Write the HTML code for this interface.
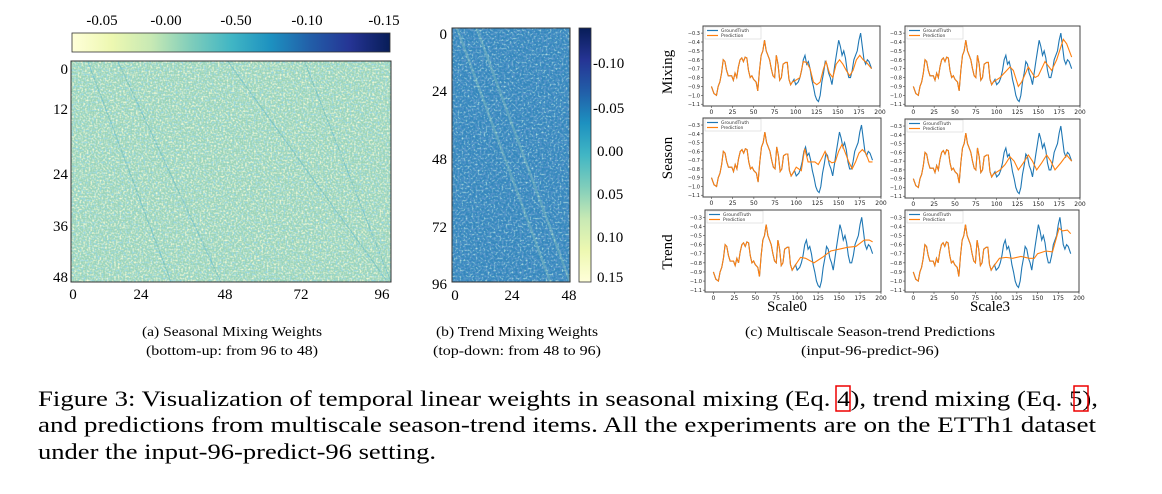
<!DOCTYPE html>
<html><head><meta charset="utf-8"><style>
html,body{margin:0;padding:0;background:#fff;}
svg{display:block;}
</style></head><body>
<svg id="fig" width="1162" height="494" viewBox="0 0 1162 494" xmlns="http://www.w3.org/2000/svg" font-family="Liberation Serif, serif">
<defs>
<linearGradient id="ylgnbuH" x1="0" y1="0" x2="1" y2="0">
<stop offset="0" stop-color="#ffffd9"/><stop offset="0.125" stop-color="#edf8b1"/><stop offset="0.25" stop-color="#c7e9b4"/><stop offset="0.375" stop-color="#7fcdbb"/><stop offset="0.5" stop-color="#41b6c4"/><stop offset="0.625" stop-color="#1d91c0"/><stop offset="0.75" stop-color="#225ea8"/><stop offset="0.875" stop-color="#253494"/><stop offset="1" stop-color="#081d58"/>
</linearGradient>
<linearGradient id="ylgnbuV" x1="0" y1="1" x2="0" y2="0">
<stop offset="0" stop-color="#ffffd9"/><stop offset="0.125" stop-color="#edf8b1"/><stop offset="0.25" stop-color="#c7e9b4"/><stop offset="0.375" stop-color="#7fcdbb"/><stop offset="0.5" stop-color="#41b6c4"/><stop offset="0.625" stop-color="#1d91c0"/><stop offset="0.75" stop-color="#225ea8"/><stop offset="0.875" stop-color="#253494"/><stop offset="1" stop-color="#081d58"/>
</linearGradient>
<filter id="noiseA" x="0" y="0" width="100%" height="100%">
<feTurbulence type="fractalNoise" baseFrequency="0.55" numOctaves="1" seed="3"/>
<feColorMatrix type="matrix" values="0 0 0 0 0.93  0 0 0 0 0.96  0 0 0 0 0.68  3 0 0 0 -1.3"/>
</filter>
<filter id="noiseA2" x="0" y="0" width="100%" height="100%">
<feTurbulence type="fractalNoise" baseFrequency="0.5" numOctaves="1" seed="11"/>
<feColorMatrix type="matrix" values="0 0 0 0 0.3  0 0 0 0 0.68  0 0 0 0 0.78  3 0 0 0 -1.4"/>
</filter>
<filter id="noiseB" x="0" y="0" width="100%" height="100%">
<feTurbulence type="fractalNoise" baseFrequency="0.5" numOctaves="1" seed="5"/>
<feColorMatrix type="matrix" values="0 0 0 0 0.5  0 0 0 0 0.78  0 0 0 0 0.76  3 0 0 0 -1.5"/>
</filter>
<filter id="noiseB2" x="0" y="0" width="100%" height="100%">
<feTurbulence type="fractalNoise" baseFrequency="0.45" numOctaves="1" seed="9"/>
<feColorMatrix type="matrix" values="0 0 0 0 0.1  0 0 0 0 0.3  0 0 0 0 0.6  3 0 0 0 -1.3"/>
</filter>
</defs>

<g>
<rect x="72" y="33" width="318" height="19" fill="url(#ylgnbuH)" stroke="#333" stroke-width="0.8"/>
<g font-size="15" text-anchor="middle">
<text x="102" y="25">-0.05</text><text x="166" y="25">-0.00</text><text x="236" y="25">-0.50</text><text x="307" y="25">-0.10</text><text x="384" y="25">-0.15</text>
</g>
<rect x="71" y="61" width="320" height="221" fill="#9cd4b9"/>
<rect x="71" y="61" width="320" height="221" filter="url(#noiseA)"/>
<rect x="71" y="61" width="320" height="221" filter="url(#noiseA2)"/>
<g id="diagA"></g>
<rect x="71" y="61" width="320" height="221" fill="none" stroke="#333" stroke-width="1"/>
<g font-size="15" text-anchor="end">
<text x="68" y="74">0</text><text x="68" y="114">12</text><text x="68" y="179">24</text><text x="68" y="231">36</text><text x="68" y="282">48</text>
</g>
<g font-size="15" text-anchor="middle">
<text x="73" y="299">0</text><text x="141" y="299">24</text><text x="225" y="299">48</text><text x="301" y="299">72</text><text x="382" y="299">96</text>
</g>
</g>

<g>
<rect x="452" y="28" width="118" height="254" fill="#3487bd"/>
<rect x="452" y="28" width="118" height="254" filter="url(#noiseB)"/>
<rect x="452" y="28" width="118" height="254" filter="url(#noiseB2)"/>
<g id="diagB"></g>
<rect x="452" y="28" width="118" height="254" fill="none" stroke="#333" stroke-width="1"/>
<rect x="579" y="28" width="12" height="254" fill="url(#ylgnbuV)" stroke="#333" stroke-width="0.8"/>
<g font-size="15" text-anchor="start">
<text x="593" y="68">-0.10</text><text x="593" y="113">-0.05</text><text x="597" y="156">0.00</text><text x="597" y="199">0.05</text><text x="597" y="242">0.10</text><text x="597" y="282">0.15</text>
</g>
<g font-size="15" text-anchor="end">
<text x="447" y="39">0</text><text x="447" y="96">24</text><text x="447" y="164">48</text><text x="447" y="232">72</text><text x="447" y="289">96</text>
</g>
<g font-size="15" text-anchor="middle">
<text x="455" y="300">0</text><text x="512" y="300">24</text><text x="569" y="300">48</text>
</g>
</g>

<g id="lines"></g>
<g font-size="15">
<text transform="translate(672,72) rotate(-90)" text-anchor="middle">Mixing</text>
<text transform="translate(672,158) rotate(-90)" text-anchor="middle">Season</text>
<text transform="translate(672,252) rotate(-90)" text-anchor="middle">Trend</text>
</g>
<text x="787" y="311" font-size="15" text-anchor="middle">Scale0</text>
<text x="990" y="311" font-size="15" text-anchor="middle">Scale3</text>

<g font-size="14" text-anchor="middle">
<text x="232" y="336" textLength="180" lengthAdjust="spacingAndGlyphs">(a) Seasonal Mixing Weights</text>
<text x="232" y="355" textLength="172" lengthAdjust="spacingAndGlyphs">(bottom-up: from 96 to 48)</text>
<text x="517" y="336" textLength="162" lengthAdjust="spacingAndGlyphs">(b) Trend Mixing Weights</text>
<text x="517" y="355" textLength="168" lengthAdjust="spacingAndGlyphs">(top-down: from 48 to 96)</text>
<text x="870" y="336" textLength="250" lengthAdjust="spacingAndGlyphs">(c) Multiscale Season-trend Predictions</text>
<text x="870" y="355" textLength="138" lengthAdjust="spacingAndGlyphs">(input-96-predict-96)</text>
</g>
<g font-size="22">
<text x="38" y="406" textLength="1060" lengthAdjust="spacingAndGlyphs">Figure 3: Visualization of temporal linear weights in seasonal mixing (Eq. 4), trend mixing (Eq. 5),</text>
<text x="38" y="432" textLength="1058" lengthAdjust="spacingAndGlyphs">and predictions from multiscale season-trend items. All the experiments are on the ETTh1 dataset</text>
<text x="38" y="459" textLength="398" lengthAdjust="spacingAndGlyphs">under the input-96-predict-96 setting.</text>
</g>
<rect x="836" y="386" width="14" height="25" fill="none" stroke="#e00" stroke-width="1.5"/>
<rect x="1074" y="386" width="14" height="25" fill="none" stroke="#e00" stroke-width="1.5"/>
</svg>
<script>
const gtX = [0,3,6,8,10,12,14,16,18,20,24,26,28,30,32,34,36,38,40,42,44,46,48,50,53,55,57,59,61,63,65,67,69,71,73,75,77,79,81,83,85,88,90,92,94,96,98,100,103,105,107,109,111,113,115,117,119,121,123,125,127,129,131,133,135,137,139,141,143,145,147,149,151,153,155,157,159,161,163,165,167,169,171,173,175,177,179,181,183,185,187,190];
const gtY = [-0.9,-0.98,-1.0,-0.9,-0.85,-0.75,-0.6,-0.62,-0.72,-0.78,-0.78,-0.83,-0.75,-0.8,-0.68,-0.6,-0.58,-0.62,-0.57,-0.58,-0.72,-0.8,-0.78,-0.82,-0.85,-0.95,-0.72,-0.55,-0.5,-0.38,-0.5,-0.55,-0.6,-0.7,-0.78,-0.8,-0.55,-0.65,-0.83,-0.8,-0.65,-0.63,-0.63,-0.82,-0.88,-0.85,-0.82,-0.88,-0.85,-0.8,-0.72,-0.6,-0.55,-0.65,-0.62,-0.7,-0.82,-0.9,-1.0,-1.05,-1.07,-1.0,-0.85,-0.75,-0.62,-0.65,-0.75,-0.8,-0.88,-0.75,-0.62,-0.5,-0.38,-0.45,-0.55,-0.5,-0.58,-0.72,-0.8,-0.8,-0.72,-0.6,-0.55,-0.5,-0.38,-0.3,-0.45,-0.6,-0.65,-0.6,-0.62,-0.7];
const mix0X = [96,100,105,109,113,117,121,125,129,133,136,140,144,148,152,156,160,164,168,172,176,180,184,190];
const mix0Y = [-0.85,-0.83,-0.8,-0.62,-0.63,-0.7,-0.85,-0.88,-0.85,-0.7,-0.62,-0.75,-0.8,-0.65,-0.6,-0.65,-0.72,-0.78,-0.72,-0.6,-0.55,-0.6,-0.63,-0.7];
const mix3X = [96,104,112,116,120,126,130,138,146,150,158,166,172,180,184,190];
const mix3Y = [-0.78,-0.8,-0.72,-0.68,-0.72,-0.9,-0.85,-0.68,-0.8,-0.78,-0.62,-0.72,-0.6,-0.37,-0.42,-0.57];
const sea0X = [96,100,106,110,114,118,122,126,130,134,138,142,146,150,154,158,162,166,170,174,178,182,186,190];
const sea0Y = [-0.85,-0.78,-0.82,-0.57,-0.72,-0.72,-0.72,-0.75,-0.68,-0.6,-0.7,-0.73,-0.72,-0.6,-0.52,-0.62,-0.72,-0.8,-0.72,-0.62,-0.58,-0.62,-0.72,-0.72];
const sea3X = [96,104,110,116,121,126,132,138,143,148,154,160,165,170,177,184,190];
const sea3Y = [-0.7,-0.8,-0.74,-0.65,-0.7,-0.8,-0.72,-0.63,-0.7,-0.8,-0.72,-0.63,-0.7,-0.8,-0.72,-0.63,-0.7];
const tr0X = [96,104,110,120,130,140,150,160,170,180,186,190];
const tr0Y = [-0.82,-0.74,-0.75,-0.8,-0.74,-0.67,-0.65,-0.63,-0.62,-0.55,-0.55,-0.57];
const tr3X = [96,104,112,120,130,140,146,150,160,168,176,180,186,190];
const tr3Y = [-0.8,-0.75,-0.74,-0.75,-0.73,-0.75,-0.75,-0.7,-0.67,-0.68,-0.42,-0.45,-0.44,-0.48];
const xTicks = [0,25,50,75,100,125,150,175,200];
const yTicks = [-0.3,-0.4,-0.5,-0.6,-0.7,-0.8,-0.9,-1.0,-1.1];
const diagAStart = [14, 47, 70, 5];
const diagAEnd = [45, 95, 98, 30];
const diagBStart = [2, 10];
const diagBEnd = [40, 48];

const NS = 'http://www.w3.org/2000/svg';
function mk(tag, attrs, parent){const e=document.createElementNS(NS,tag);for(const k in attrs)e.setAttribute(k,attrs[k]);parent.appendChild(e);return e;}

const gA=document.getElementById('diagA');
const axA=c=>71+c/96*320, ayA=r=>61+r/48*221;
diagAStart.forEach((s,i)=>{const l=mk('line',{x1:axA(s),y1:ayA(0),x2:Math.min(axA(diagAEnd[i]),391),y2:ayA(48),stroke:'#2f9ec8','stroke-width':1.1,'stroke-opacity':0.3},gA);

});
const gB=document.getElementById('diagB');
const axB=c=>452+c/48*118, ayB=r=>28+r/96*254;
diagBStart.forEach((s,i)=>{const l=mk('line',{x1:axB(s),y1:ayB(0),x2:axB(diagBEnd[i]),y2:ayB(96),stroke:'#a8dcc0','stroke-width':2.5,'stroke-opacity':0.3},gB);

});

const panels=[
 {x0:703,x1:880,y0:26,y1:106,pX:mix0X,pY:mix0Y,name:'mixing-scale0'},
 {x0:905,x1:1080,y0:26,y1:106,pX:mix3X,pY:mix3Y,name:'mixing-scale3'},
 {x0:703,x1:881,y0:118,y1:197,pX:sea0X,pY:sea0Y,name:'season-scale0'},
 {x0:905,x1:1080,y0:119,y1:198,pX:sea3X,pY:sea3Y,name:'season-scale3'},
 {x0:705,x1:881,y0:210,y1:292,pX:tr0X,pY:tr0Y,name:'trend-scale0'},
 {x0:905,x1:1079,y0:210,y1:292,pX:tr3X,pY:tr3Y,name:'trend-scale3'}];
const root=document.getElementById('lines');
panels.forEach(p=>{
 const g=mk('g',{},root);
 
 
 const sx=v=>p.x0+(v+10)/210*(p.x1-p.x0);
 const sy=v=>p.y0+(-0.22-v)/0.9*(p.y1-p.y0);
 const box=mk('rect',{x:p.x0,y:p.y0,width:p.x1-p.x0,height:p.y1-p.y0,fill:'#fff',stroke:'#444','stroke-width':1},g);
 
 
 xTicks.forEach(t=>{const tx=mk('text',{x:sx(t),y:p.y1+8,'font-size':6,'text-anchor':'middle','font-family':'DejaVu Sans, sans-serif',fill:'#222'},g);tx.textContent=t;
  
  
  mk('line',{x1:sx(t),x2:sx(t),y1:p.y1,y2:p.y1+2,stroke:'#444','stroke-width':0.6},g);});
 yTicks.forEach(t=>{const ty=mk('text',{x:p.x0-3,y:sy(t)+2,'font-size':5,'text-anchor':'end','font-family':'DejaVu Sans, sans-serif',fill:'#222'},g);ty.textContent='\u2212'+Math.abs(t).toFixed(1);
  
  
  mk('line',{x1:p.x0-2,x2:p.x0,y1:sy(t),y2:sy(t),stroke:'#444','stroke-width':0.6},g);});
 const gt=mk('polyline',{points:gtX.map((x,i)=>sx(x)+','+sy(gtY[i])).join(' '),fill:'none',stroke:'#1f77b4','stroke-width':1.1},g);
 
 
 const hx=[],hy=[];
 gtX.forEach((x,i)=>{if(x<=96){hx.push(x);hy.push(gtY[i]);}});
 const px=hx.concat(p.pX.slice(1)), py=hy.concat(p.pY.slice(1));
 const pr=mk('polyline',{points:px.map((x,i)=>sx(x)+','+sy(py[i])).join(' '),fill:'none',stroke:'#ff7f0e','stroke-width':1.1},g);
 
 
 const lg=mk('g',{},g);
 
 
 mk('rect',{x:p.x0+2,y:p.y0+1,width:56,height:12,fill:'#fff',stroke:'#ccc','stroke-width':0.5},lg);
 mk('line',{x1:p.x0+4,x2:p.x0+15,y1:p.y0+4.5,y2:p.y0+4.5,stroke:'#1f77b4','stroke-width':1.2},lg);
 mk('line',{x1:p.x0+4,x2:p.x0+15,y1:p.y0+9.5,y2:p.y0+9.5,stroke:'#ff7f0e','stroke-width':1.2},lg);
 const t1=mk('text',{x:p.x0+18,y:p.y0+6,'font-size':4.5,'font-family':'DejaVu Sans, sans-serif',fill:'#333'},lg);t1.textContent='GroundTruth';
 
 
 const t2=mk('text',{x:p.x0+18,y:p.y0+11,'font-size':4.5,'font-family':'DejaVu Sans, sans-serif',fill:'#333'},lg);t2.textContent='Prediction';
 
 
});
</script>
</body></html>
